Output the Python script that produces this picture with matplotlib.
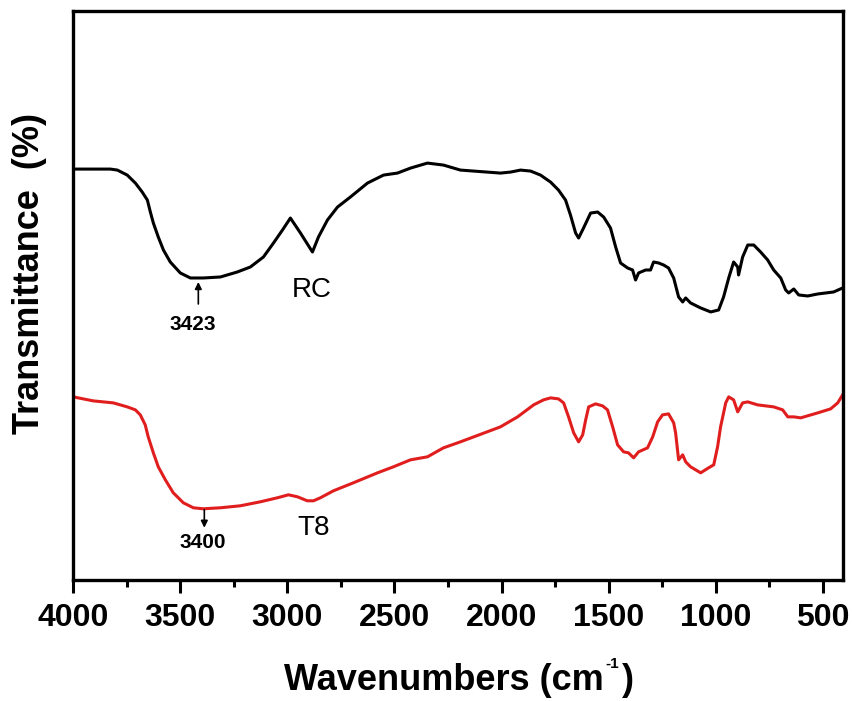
import matplotlib.pyplot as plt
from matplotlib.ticker import MultipleLocator

plt.rcParams['font.family'] = ['Liberation Sans', 'DejaVu Sans']

# RC spectrum (wavenumber, transmittance in arbitrary units)
rc_wn = [4000, 3827, 3794, 3748, 3710, 3678, 3654, 3640, 3626, 3603, 3579, 3547,
         3500, 3453, 3416, 3393, 3313, 3234, 3173, 3112, 3065, 3023, 2986, 2939,
         2883, 2855, 2813, 2766, 2706, 2626, 2551, 2486, 2425, 2346, 2271, 2192,
         2005, 1958, 1911, 1864, 1818, 1771, 1734, 1701, 1678, 1654, 1640, 1617,
         1584, 1551, 1523, 1491, 1467, 1444, 1411, 1388, 1374, 1360, 1327, 1304,
         1290, 1266, 1243, 1220, 1196, 1173, 1154, 1140, 1117, 1070, 1023, 986,
         963, 939, 916, 897, 893, 874, 850, 822, 790, 757, 729, 696, 673, 659,
         635, 612, 570, 523, 449, 407]
rc_t = [411, 411, 410, 405, 397, 388, 380, 368, 357, 343, 330, 318,
        307, 302, 302, 302, 303, 308, 313, 323, 337, 350, 362, 347,
        328, 343, 360, 373, 383, 397, 405, 407, 412, 417, 415, 410,
        407, 408, 410, 409, 405, 398, 390, 380, 365, 347, 342, 352,
        367, 368, 363, 352, 333, 317, 312, 310, 300, 307, 310, 310,
        318, 317, 315, 312, 302, 283, 278, 282, 277, 272, 268, 270,
        283, 302, 318, 313, 305, 323, 335, 335, 328, 320, 310, 302, 290, 287,
        291, 285, 284, 286, 288, 292]

# T8 spectrum
t8_wn = [4000, 3907, 3813, 3748, 3710, 3687, 3664, 3650, 3626, 3603, 3570, 3533,
         3486, 3439, 3393, 3313, 3220, 3126, 3047, 2995, 2953, 2907, 2878, 2846,
         2785, 2692, 2579, 2505, 2425, 2346, 2271, 2192, 2005, 1925, 1850, 1804,
         1771, 1734, 1710, 1687, 1663, 1640, 1621, 1607, 1593, 1561, 1528, 1505,
         1481, 1458, 1430, 1407, 1383, 1360, 1318, 1294, 1271, 1248, 1220, 1196,
         1187, 1173, 1154, 1140, 1117, 1070, 1033, 1009, 991, 977, 953, 939,
         916, 897, 874, 850, 804, 729, 687, 663, 635, 603, 523, 463, 430, 407]
t8_t = [183, 179, 177, 173, 170, 165, 155, 143, 127, 113, 100, 87,
        77, 72, 71, 72, 74, 78, 82, 85, 83, 79, 79, 82,
        89, 97, 107, 113, 120, 123, 132, 138, 153, 163, 175, 180,
        182, 181, 177, 163, 147, 138, 145, 160, 173, 176, 174, 170,
        153, 135, 128, 127, 122, 128, 132, 143, 158, 165, 166, 157,
        147, 120, 125, 118, 113, 107, 112, 115, 133, 153, 177, 183,
        180, 168, 177, 178, 175, 173, 170, 163, 163, 162, 167, 171, 177, 185]

fig = plt.figure(figsize=(8.52, 7.01), dpi=100)
ax = fig.add_axes([0.086, 0.173, 0.903, 0.811])

ax.plot(rc_wn, rc_t, color='black', lw=2.2, solid_joinstyle='round')
ax.plot(t8_wn, t8_t, color='#e01e1e', lw=2.2, solid_joinstyle='round')

ax.set_xlim(4000, 407)
ax.set_ylim(0, 569)
ax.xaxis.set_major_locator(MultipleLocator(500))
ax.xaxis.set_minor_locator(MultipleLocator(250))
ax.set_yticks([])
ax.tick_params(axis='x', which='major', direction='out', length=9, width=2.2,
               pad=8, labelsize=23, top=False)
ax.tick_params(axis='x', which='minor', direction='out', length=5, width=2.2, top=False)
for lab in ax.get_xticklabels():
    lab.set_fontweight('bold')
for s in ax.spines.values():
    s.set_linewidth(2.4)

arrow = dict(arrowstyle='-|>', color='black', lw=1.2, shrinkA=0, shrinkB=0,
             mutation_scale=10)
ax.annotate('', xy=(3416, 298), xytext=(3416, 276), arrowprops=arrow)
ax.text(3444, 255, '3423', ha='center', va='center', fontsize=15, fontweight='bold')
ax.annotate('', xy=(3388, 52), xytext=(3388, 70), arrowprops=arrow)
ax.text(3393, 37, '3400', ha='center', va='center', fontsize=15, fontweight='bold')
ax.text(2888, 290, 'RC', ha='center', va='center', fontsize=20)
ax.text(2879, 52, 'T8', ha='center', va='center', fontsize=20)

# x label with a small superscript, as in the original
base_y = 11 / 701
xl = fig.text(0.073, base_y, 'Wavenumbers (cm', ha='left', va='baseline',
              fontsize=26, fontweight='bold')
fig.canvas.draw()
bb = xl.get_window_extent()
w_total = bb.width + 30
x0 = (75 + 843) / 2 - w_total / 2
xl.set_position((x0 / 852, base_y))
ax.annotate('-1', xy=(1, 1), xycoords=xl, xytext=(1, 4), textcoords='offset points',
            ha='left', va='top', fontsize=11, fontweight='bold')
ax.annotate(')', xy=(1, 0), xycoords=xl, xytext=(13, 0), textcoords='offset points',
            ha='left', va='bottom', fontsize=26, fontweight='bold')

fig.text(0.035, 0.61, 'Transmittance  (%)', rotation=90, ha='center', va='center',
         fontsize=26, fontweight='bold')

fig.savefig('out.png', dpi=100)
